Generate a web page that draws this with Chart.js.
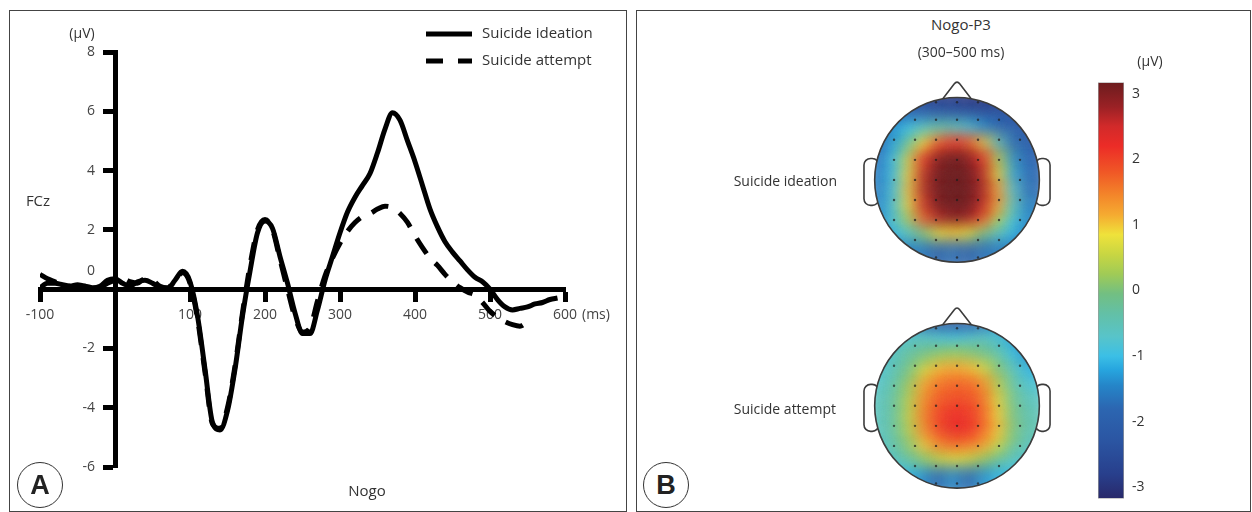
<!DOCTYPE html>
<html>
<head>
<meta charset="utf-8">
<script src="https://cdn.jsdelivr.net/npm/chart.js@4.4.1/dist/chart.umd.min.js"></script>
<style>
body { margin:0; width:1252px; height:512px; background:#fff; position:relative; overflow:hidden;
  font-family:"Open Sans", sans-serif; color:#333; }
.panel { position:absolute; border:1px solid #444; box-sizing:border-box; }
.txt { position:absolute; white-space:nowrap; font-size:14px; line-height:1; transform:translate(-50%,-50%); }
.right { transform:translate(-100%,-50%); }
.badge { position:absolute; width:44px; height:44px; border:1px solid #333; border-radius:50%;
  font:bold 27px "Liberation Sans", Arial, sans-serif; color:#222; text-align:center; line-height:44px;
  transform:translate(-50%,-50%); }
.wrap { position:absolute; }
</style>
</head>
<body>
<div class="panel" style="left:9px;top:10px;width:618px;height:502px"></div>
<div class="panel" style="left:636px;top:10px;width:615px;height:502px"></div>

<div class="wrap" style="left:10px;top:11px;width:616px;height:498px"><canvas id="erp" width="616" height="498"></canvas></div>
<div class="wrap" style="left:830px;top:60px;width:255px;height:450px"><canvas id="topo" width="255" height="450"></canvas></div>
<div class="wrap" style="left:1090px;top:66px;width:120px;height:449px"><canvas id="cbar" width="120" height="449"></canvas></div>

<div class="txt" style="left:82px;top:33px">(µV)</div>
<div class="txt" style="left:38px;top:200px;font-size:15px">FCz</div>
<div class="txt" style="left:367px;top:490px;font-size:15px">Nogo</div>
<div class="badge" style="left:40px;top:485px">A</div>

<div class="txt" style="left:961px;top:24px;font-size:15px">Nogo-P3</div>
<div class="txt" style="left:961px;top:52px">(300–500 ms)</div>
<div class="txt right" style="left:837px;top:181px">Suicide ideation</div>
<div class="txt right" style="left:836px;top:409px">Suicide attempt</div>
<div class="txt" style="left:1150px;top:61px">(µV)</div>
<div class="badge" style="left:666px;top:485px">B</div>

<script>
const FONT = '"Open Sans", sans-serif';

// ---- panel A data ----
const timeMs = [-100,-90,-80,-70,-60,-50,-40,-30,-20,-10,0,10,20,30,40,50,60,70,80,90,
  100,110,120,130,140,150,160,170,180,190,200,210,220,230,240,250,260,270,280,290,
  300,310,320,330,340,350,360,370,380,390,400,410,420,430,440,450,460,470,480,490,
  500,510,520,530,540,550,560,570,580,590,600];
const seriesNames = ['Suicide ideation', 'Suicide attempt'];
const ideation = [0.05,0.2,0.2,0.15,0.1,0.05,0.1,0.05,0.1,0.3,0.35,0.2,0.1,0.25,0.3,0.2,0.05,0.0,0.3,0.6,
  0.25,-0.9,-2.7,-4.5,-4.75,-4.1,-2.7,-0.9,0.6,1.9,2.3,2.05,1.1,0.2,-0.8,-1.5,-1.5,-0.7,0.3,1.1,
  1.9,2.6,3.1,3.5,3.9,4.6,5.4,5.95,5.7,5.0,4.3,3.5,2.7,2.1,1.6,1.25,0.95,0.65,0.4,0.25,
  0.0,-0.35,-0.6,-0.7,-0.65,-0.6,-0.5,-0.45,-0.35,-0.3,null];
const attempt = [0.5,0.35,0.25,0.15,0.1,0.15,0.1,0.0,0.05,0.2,0.3,0.35,0.25,0.2,0.35,0.3,0.1,0.05,0.3,0.55,
  0.2,-1.0,-2.8,-4.55,-4.7,-4.0,-2.6,-0.8,0.8,2.0,2.35,2.0,1.0,0.0,-0.95,-1.45,-1.3,-0.4,0.45,1.05,
  1.55,1.95,2.25,2.45,2.55,2.7,2.8,2.75,2.55,2.25,1.8,1.4,1.05,0.8,0.5,0.25,0.05,-0.1,-0.2,-0.45,
  -0.75,-0.95,-1.1,-1.2,-1.25,-1.1,null,null,null,null,null];
const xTickValues = [-100,0,100,200,300,400,500,600];
const yTickValues = [-6,-4,-2,0,2,4,6,8];

// ---- panel B data (11x11 grids, rows front to back) ----
const topoIdeation = [
  [-2.3,-2.5,-2.7,-2.8,-2.9,-2.9,-3.0,-3.0,-2.9,-2.7,-2.5],
  [-1.8,-1.7,-1.8,-2.0,-2.2,-2.3,-2.4,-2.5,-2.4,-2.3,-2.2],
  [-1.9,-1.3,-1.0,-0.6,-0.4,-0.5,-0.8,-1.4,-1.9,-2.1,-2.2],
  [-1.8,-1.2,-0.2,0.9,1.8,2.1,1.9,1.0,-0.6,-1.8,-2.1],
  [-1.7,-1.0,0.6,2.2,3.0,3.2,3.0,2.2,0.4,-1.4,-2.0],
  [-1.6,-1.0,0.9,2.6,3.3,3.4,3.3,2.6,0.8,-1.2,-1.9],
  [-1.6,-0.9,1.0,2.7,3.4,3.5,3.4,2.7,1.2,-0.8,-1.8],
  [-1.5,-0.8,0.9,2.5,3.3,3.4,3.3,2.6,1.2,-0.6,-1.6],
  [-1.4,-0.8,0.3,1.8,2.7,3.0,2.8,1.9,0.4,-0.9,-1.5],
  [-1.4,-1.0,-0.6,0.0,0.8,1.0,0.8,0.0,-0.6,-1.1,-1.5],
  [-1.6,-1.5,-1.5,-1.6,-2.0,-1.7,-2.0,-1.7,-1.6,-1.5,-1.5]
];
const topoAttempt = [
  [-1.0,-1.1,-1.3,-1.8,-2.3,-2.5,-2.3,-1.8,-1.3,-1.3,-1.3],
  [-0.9,-0.8,-0.7,-0.6,-0.8,-0.9,-0.8,-0.6,-0.8,-1.2,-1.4],
  [-0.9,-0.6,-0.3,-0.1,0.1,0.2,0.1,-0.1,-0.4,-1.0,-1.4],
  [-0.8,-0.5,-0.1,0.6,1.1,1.2,1.1,0.7,0.0,-0.6,-1.1],
  [-0.7,-0.4,0.2,1.2,1.6,1.7,1.7,1.4,0.4,-0.4,-0.8],
  [-0.6,-0.3,0.4,1.4,1.8,1.9,1.9,1.6,0.7,-0.2,-0.6],
  [-0.6,-0.3,0.5,1.5,2.0,2.2,2.1,1.7,0.9,-0.1,-0.5],
  [-0.6,-0.3,0.4,1.4,2.0,2.3,2.2,1.7,1.0,0.0,-0.5],
  [-0.7,-0.4,0.1,1.0,1.5,1.7,1.6,1.3,0.6,-0.2,-0.6],
  [-0.8,-0.6,-0.3,0.1,0.5,0.7,0.6,0.2,-0.2,-0.6,-0.8],
  [-1.0,-1.0,-1.1,-1.4,-1.9,-1.4,-1.9,-1.4,-1.1,-1.0,-1.0]
];
const electrodeRows = [-0.93,-0.72,-0.48,-0.24,0,0.24,0.48,0.72,0.93];
const colorbarTicks = [-3,-2,-1,0,1,2,3];
const CB_MIN = -3.17, CB_MAX = 3.17;

// jet-like colour stops
const jetStops = [
  [-3.17,'#29296a'],[-2.8,'#283f8c'],[-2.3,'#2b55a2'],[-1.8,'#2c66b1'],[-1.45,'#2585c8'],
  [-1.2,'#27a6df'],[-1.0,'#3bbfe6'],[-0.7,'#58c4c9'],[-0.35,'#63c0a6'],[-0.05,'#72bf82'],
  [0.25,'#a0cb56'],[0.55,'#c8d642'],[0.85,'#efe23b'],[1.15,'#f5ab31'],[1.45,'#f3862a'],
  [1.8,'#f05826'],[2.2,'#ec2c27'],[2.5,'#d22a2a'],[2.8,'#9a2125'],[3.17,'#6c1c1e']
];
function hex(c) { return [1,3,5].map(i => parseInt(c.substr(i,2),16)); }
function jet(v) {
  v = Math.max(CB_MIN, Math.min(CB_MAX, v));
  for (let i = 1; i < jetStops.length; i++) {
    if (v <= jetStops[i][0]) {
      const [v0, c0] = jetStops[i-1], [v1, c1] = jetStops[i];
      const f = (v - v0) / (v1 - v0), a = hex(c0), b = hex(c1);
      return 'rgb(' + a.map((x, k) => Math.round(x + (b[k]-x)*f)).join(',') + ')';
    }
  }
  return jetStops[jetStops.length-1][1];
}

// ---- panel A chart ----
const toPoints = vals => timeMs.map((t, i) => ({x: t, y: vals[i]})).filter(p => p.y !== null);

const erpExtras = {
  id: 'erpExtras',
  afterDraw(chart) {
    const ctx = chart.ctx;
    chart.data.datasets.forEach((ds, i) => {
      const y = 23 + i * 27;
      ctx.save();
      ctx.strokeStyle = '#000';
      ctx.lineWidth = 5;
      ctx.setLineDash(ds.legendDash);
      ctx.beginPath(); ctx.moveTo(416, y); ctx.lineTo(462, y); ctx.stroke();
      ctx.restore();
      ctx.fillStyle = '#333';
      ctx.font = '15px ' + FONT;
      ctx.textBaseline = 'middle';
      ctx.textAlign = 'left';
      ctx.fillText(ds.label, 472, y);
    });
    const xs = chart.scales.x, ys = chart.scales.y;
    const x0 = xs.getPixelForValue(0), y0 = ys.getPixelForValue(0);
    ctx.fillStyle = '#444';
    ctx.font = '14px ' + FONT;
    // y tick labels, left of the tick marks
    ctx.textAlign = 'right';
    ctx.textBaseline = 'middle';
    yTickValues.forEach(v => {
      ctx.fillText(String(v), x0 - 20, ys.getPixelForValue(v) - (v === 0 ? 18 : 0));
    });
    // unit after the last x tick
    ctx.textAlign = 'left';
    ctx.textBaseline = 'top';
    ctx.fillText('(ms)', xs.getPixelForValue(600) + 17, y0 + 19);
  }
};

const tickFont = {family: FONT, size: 14};
new Chart(document.getElementById('erp'), {
  type: 'line',
  data: {
    datasets: [
      {label: seriesNames[0], data: toPoints(ideation), borderColor: '#000', borderWidth: 5,
       pointRadius: 0, cubicInterpolationMode: 'monotone', legendDash: []},
      {label: seriesNames[1], data: toPoints(attempt), borderColor: '#000', borderWidth: 5,
       borderDash: [18, 13], pointRadius: 0, cubicInterpolationMode: 'monotone', legendDash: [17, 15]}
    ]
  },
  options: {
    responsive: false, animation: false, events: [],
    layout: {padding: {left: 30, right: 61, top: 41, bottom: 42}},
    plugins: {legend: {display: false}, tooltip: {enabled: false}},
    scales: {
      x: {
        type: 'linear', min: -100, max: 600, position: {y: 0},
        afterBuildTicks: s => { s.ticks = xTickValues.map(v => ({value: v})); },
        ticks: {color: '#444', font: tickFont, padding: 7, callback: v => v === 0 ? '' : v},
        grid: {drawOnChartArea: false, color: '#000', tickLength: 10, tickWidth: 5},
        border: {color: '#000', width: 5}
      },
      y: {
        type: 'linear', min: -6, max: 8, position: {x: 0},
        afterBuildTicks: s => { s.ticks = yTickValues.map(v => ({value: v})); },
        ticks: {display: false},
        grid: {drawOnChartArea: false, color: '#000', tickLength: 10, tickWidth: 5},
        border: {color: '#000', width: 5}
      }
    }
  },
  plugins: [erpExtras]
});

// ---- panel B topographic maps ----
const HEAD2_Y = 2.706;
function cellsOf(grid, offsetY) {
  const n = grid.length, pts = [];
  grid.forEach((row, r) => row.forEach((v, c) => {
    pts.push({x: -1 + (2*c + 1)/n, y: offsetY - 1 + (2*r + 1)/n, v: v});
  }));
  return pts;
}
function electrodes(offsetY) {
  const pts = [];
  electrodeRows.forEach(y => {
    for (let k = -4; k <= 4; k++) {
      const x = k * 0.255;
      if (x*x + y*y < 0.94) pts.push({x: x, y: y + offsetY});
    }
  });
  return pts;
}

function drawHead(ctx, cx, cy, r) {
  ctx.save();
  ctx.strokeStyle = '#3c3c3c';
  ctx.lineWidth = 1.6;
  ctx.save();
  ctx.beginPath();
  ctx.rect(cx - 2*r, cy - 2*r, 4*r, 4*r);
  ctx.arc(cx, cy, r, 0, Math.PI*2);
  ctx.clip('evenodd');
  ctx.beginPath();
  ctx.moveTo(cx - 0.2*r, cy - 0.95*r);
  ctx.lineTo(cx - 0.035*r, cy - 1.165*r);
  ctx.quadraticCurveTo(cx, cy - 1.21*r, cx + 0.035*r, cy - 1.165*r);
  ctx.lineTo(cx + 0.2*r, cy - 0.95*r);
  ctx.stroke();
  [-1, 1].forEach(side => {
    const x0 = side < 0 ? cx - 1.13*r : cx + 0.95*r;
    ctx.beginPath();
    ctx.roundRect(x0, cy - 0.26*r, 0.18*r, 0.57*r, 0.08*r);
    ctx.stroke();
  });
  ctx.restore();
  ctx.beginPath();
  ctx.arc(cx, cy, r, 0, Math.PI*2);
  ctx.stroke();
  ctx.restore();
}

const headPlugin = {
  id: 'heads',
  beforeDatasetDraw(chart, args) {
    const ds = chart.data.datasets[args.index];
    if (ds.headY === undefined) return;
    const {x, y} = chart.scales;
    const cx = x.getPixelForValue(0), cy = y.getPixelForValue(ds.headY);
    const r = x.getPixelForValue(1) - cx;
    const ctx = chart.ctx;
    ctx.save();
    ctx.beginPath();
    ctx.arc(cx, cy, r, 0, Math.PI*2);
    ctx.clip();
    ctx.filter = 'blur(8px)';
  },
  afterDatasetDraw(chart, args) {
    const ds = chart.data.datasets[args.index];
    if (ds.headY === undefined) return;
    chart.ctx.restore();
  },
  afterDatasetsDraw(chart) {
    const {x, y} = chart.scales;
    const cx = x.getPixelForValue(0), r = x.getPixelForValue(1) - cx;
    [0, HEAD2_Y].forEach(hy => drawHead(chart.ctx, cx, y.getPixelForValue(hy), r));
  }
};

const cellRadius = c => {
  const s = c.chart.scales.x;
  return (s.getPixelForValue(2/11) - s.getPixelForValue(0)) * 1.15;
};
const cellDataset = (grid, hy) => ({
  data: cellsOf(grid, hy), headY: hy, order: 1, pointStyle: 'rect', pointRadius: cellRadius,
  pointBorderWidth: 0, pointBackgroundColor: c => jet(c.raw.v)
});

new Chart(document.getElementById('topo'), {
  type: 'scatter',
  data: {
    datasets: [
      cellDataset(topoIdeation, 0),
      cellDataset(topoAttempt, HEAD2_Y),
      {data: electrodes(0).concat(electrodes(HEAD2_Y)), order: 0, pointRadius: 1.2, pointBorderWidth: 0,
       pointBackgroundColor: 'rgba(30,30,30,0.7)'}
    ]
  },
  options: {
    responsive: false, animation: false, events: [],
    plugins: {legend: {display: false}, tooltip: {enabled: false}},
    scales: {
      x: {type: 'linear', display: false, min: -1.4941, max: 1.5059},
      y: {type: 'linear', display: false, reverse: true, min: -1.3882, max: 3.9059}
    }
  },
  plugins: [headPlugin]
});

// ---- colour bar ----
new Chart(document.getElementById('cbar'), {
  type: 'bar',
  data: {
    labels: ['µV'],
    datasets: [{
      data: [[CB_MIN, CB_MAX]], borderColor: '#9a9a9a', borderWidth: 1, borderSkipped: false,
      barPercentage: 1, categoryPercentage: 1,
      backgroundColor: c => {
        const ch = c.chart, area = ch.chartArea;
        if (!area) return null;
        const ys = ch.scales.y;
        const g = ch.ctx.createLinearGradient(0, ys.getPixelForValue(CB_MIN), 0, ys.getPixelForValue(CB_MAX));
        jetStops.forEach(([v, col]) => g.addColorStop((v - CB_MIN)/(CB_MAX - CB_MIN), col));
        return g;
      }
    }]
  },
  options: {
    responsive: false, animation: false, events: [],
    layout: {padding: {left: 8, right: 0, top: 10, bottom: 10}},
    plugins: {legend: {display: false}, tooltip: {enabled: false}},
    scales: {
      x: {display: false},
      y: {
        position: 'right', min: CB_MIN, max: CB_MAX,
        afterFit: s => { s.width = 86; },
        afterBuildTicks: s => { s.ticks = colorbarTicks.map(v => ({value: v})); },
        ticks: {color: '#333', font: tickFont, padding: 8},
        grid: {display: false, drawTicks: false},
        border: {display: false}
      }
    }
  }
});
</script>
</body>
</html>
